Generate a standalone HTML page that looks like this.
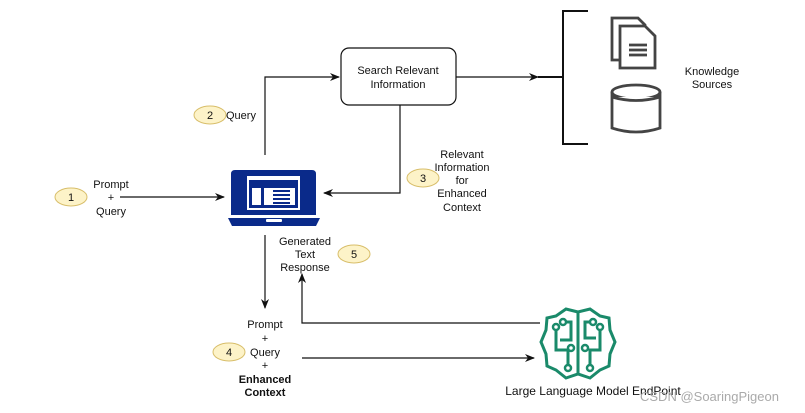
<!DOCTYPE html>
<html><head><meta charset="utf-8"><style>
body{margin:0;background:#fff}
svg{display:block}
text{font-family:"Liberation Sans",Arial,sans-serif;font-size:11px;fill:#111}
</style></head><body>
<svg width="805" height="413" viewBox="0 0 805 413">
<defs><marker id="a" markerWidth="10" markerHeight="8" refX="9" refY="4" orient="auto" markerUnits="userSpaceOnUse"><path d="M0,0 L10,4 L0,8 L3,4Z" fill="#111"/></marker></defs>
<g stroke="#111" stroke-width="1.2" fill="none">
<path d="M265,155 V77 H339" marker-end="url(#a)"/>
<path d="M456,77 H538" marker-end="url(#a)"/>
<path d="M538,77 H563" stroke-width="2"/>
<path d="M588,11 H563 V144 H588" stroke-width="2"/>
<path d="M400,105 V193 H324" marker-end="url(#a)"/>
<path d="M120,197 H224" marker-end="url(#a)"/>
<path d="M265,235 V308" marker-end="url(#a)"/>
<path d="M540,323 H302 V274" marker-end="url(#a)"/>
<path d="M302,358 H534" marker-end="url(#a)"/>
</g>
<rect x="341" y="48" width="115" height="57" rx="8" fill="#fff" stroke="#111" stroke-width="1.2"/>
<text x="398" y="74" text-anchor="middle">Search Relevant</text>
<text x="398" y="88" text-anchor="middle">Information</text>
<g fill="#fff" stroke="#444" stroke-width="2.8">
<path d="M612,18 H638 L645,25 V60 H612Z"/>
<path d="M620,26 H645 L655,36 V68 H620Z"/>
<path d="M629,45 H647 M629,50 H647 M629,55 H647"/>
<path d="M612,92 V128 Q636,136 660,128 V92"/>
<ellipse cx="636" cy="92" rx="24" ry="7"/>
<path d="M612,97 Q636,104 660,97"/>
</g>
<text x="712" y="75" text-anchor="middle">Knowledge</text>
<text x="712" y="88" text-anchor="middle">Sources</text>
<g fill="#0a2a8a">
<path d="M235,170 H312 Q316,170 316,174 V215 H231 V174 Q231,170 235,170Z"/>
<rect x="247" y="176" width="53" height="34" fill="#fff"/>
<rect x="249" y="180" width="49" height="28"/>
<rect x="252" y="188" width="9" height="17" fill="#fff"/>
<rect x="264" y="188" width="31" height="17" fill="#fff"/>
<rect x="273" y="190" width="17" height="2"/><rect x="273" y="194" width="17" height="2"/><rect x="273" y="198" width="17" height="2"/><rect x="273" y="202" width="17" height="2"/>
<path d="M228,218 H320 L316,226 H232Z"/>
<rect x="266" y="219" width="16" height="3" rx="1" fill="#fff"/>
</g>
<g fill="#fdf3c8" stroke="#d8be6a" stroke-width="1">
<ellipse cx="71" cy="197" rx="16" ry="9"/>
<ellipse cx="210" cy="115" rx="16" ry="9"/>
<ellipse cx="423" cy="178" rx="16" ry="9"/>
<ellipse cx="229" cy="352" rx="16" ry="9"/>
<ellipse cx="354" cy="254" rx="16" ry="9"/>
</g>
<g text-anchor="middle">
<text x="71" y="201">1</text><text x="210" y="119">2</text><text x="423" y="182">3</text><text x="229" y="356">4</text><text x="354" y="258">5</text>
<text x="111" y="188">Prompt</text><text x="111" y="201">+</text><text x="111" y="215">Query</text>
<text x="462" y="158">Relevant</text><text x="462" y="171">Information</text><text x="462" y="184">for</text><text x="462" y="197">Enhanced</text><text x="462" y="211">Context</text>
<text x="305" y="245">Generated</text><text x="305" y="258">Text</text><text x="305" y="271">Response</text>
<text x="265" y="328">Prompt</text><text x="265" y="342">+</text><text x="265" y="356">Query</text><text x="265" y="369">+</text>
<text x="265" y="383" font-weight="bold">Enhanced</text><text x="265" y="396" font-weight="bold">Context</text>
<text x="593" y="395" style="font-size:12px">Large Language Model EndPoint</text>
</g>
<text x="226" y="119">Query</text>
<text x="640" y="401" style="fill:#aaa;font-size:13px">CSDN @SoaringPigeon</text>
<g fill="none" stroke="#1a8a6a" stroke-width="3">
<path d="M578,312 L566,309 L556,316 L547,318 L546,330 L541,342 L546,354 L547,366 L556,370 L566,378 L578,374 L590,378 L600,370 L609,366 L610,354 L615,342 L610,330 L609,318 L600,316 L590,309Z"/>
<path d="M578,312 V374"/>
<path d="M565,322 H571 V340 H560"/><path d="M556,330 V350 H568 V366"/>
<path d="M591,322 H585 V338 H596"/><path d="M600,330 V350 H590 V366"/>
</g>
<g fill="#fff" stroke="#1a8a6a" stroke-width="2.5">
<circle cx="563" cy="322" r="3"/><circle cx="556" cy="327" r="3"/><circle cx="571" cy="348" r="3"/><circle cx="568" cy="368" r="3"/>
<circle cx="593" cy="322" r="3"/><circle cx="600" cy="327" r="3"/><circle cx="585" cy="348" r="3"/><circle cx="590" cy="368" r="3"/>
</g>
</svg>
</body></html>
